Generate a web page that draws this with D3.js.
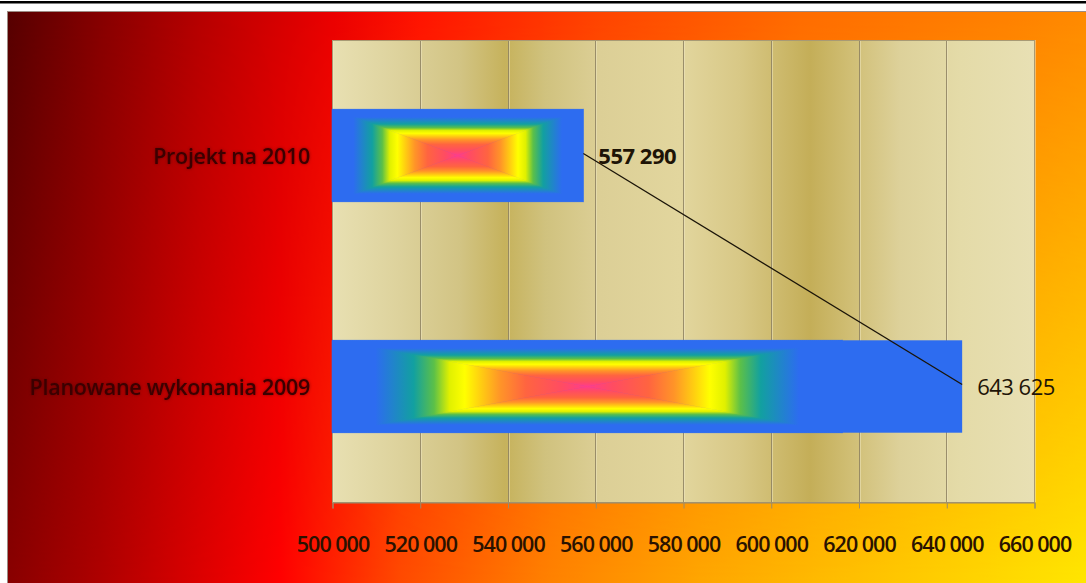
<!DOCTYPE html>
<html><head><meta charset="utf-8">
<script src="https://cdn.jsdelivr.net/npm/d3@7"></script>
<style>html,body{margin:0;padding:0;background:#fff;overflow:hidden;} svg{display:block;}</style>
</head><body>
<script>
// ---- data ----
const categories = ["Projekt na 2010", "Planowane wykonania 2009"];
const values = [557290, 643625];
const valueLabels = ["557 290", "643 625"];
const tickValues = [500000, 520000, 540000, 560000, 580000, 600000, 620000, 640000, 660000];
const tickLabels = ["500 000", "520 000", "540 000", "560 000", "580 000", "600 000", "620 000", "640 000", "660 000"];
const gradientSpan = [1, 0.81]; // share of each bar covered by the rectangular colour gradient

// ---- layout ----
const W = 1086, H = 583;
const chart = {x: 7, y: 11, w: W - 7, h: H - 11};
const plot = {left: 332, right: 1034, top: 40, bottom: 502};

const svg = d3.select("body").append("svg").attr("width", W).attr("height", H);
const defs = svg.append("defs");

// top black rule
svg.append("rect").attr("x", 0).attr("y", 1).attr("width", W).attr("height", 2.5).attr("fill", "#000");

// background: bilinear blend of top-row and bottom-row gradients
function hGrad(id, stops) {
  const g = defs.append("linearGradient").attr("id", id).attr("gradientUnits", "userSpaceOnUse")
    .attr("x1", chart.x).attr("x2", chart.x + chart.w).attr("y1", 0).attr("y2", 0);
  stops.forEach(s => g.append("stop").attr("offset", (s[0] - chart.x) / chart.w).attr("stop-color", s[1]));
}
hGrad("bgTop", [[7, "#560000"], [100, "#860000"], [200, "#b60000"], [330, "#ea0000"], [420, "#ff1400"], [600, "#ff4400"], [800, "#ff6c00"], [1000, "#ff8000"], [1086, "#ff8a00"]]);
hGrad("bgBot", [[7, "#880000"], [100, "#ae0000"], [200, "#dc0000"], [280, "#ff0000"], [400, "#ff4a00"], [550, "#ff8200"], [700, "#ffa600"], [900, "#ffc800"], [1086, "#ffe600"]]);
const vm = defs.append("linearGradient").attr("id", "vmask").attr("x1", 0).attr("x2", 0).attr("y1", 0).attr("y2", 1);
vm.append("stop").attr("offset", 0).attr("stop-color", "#000");
vm.append("stop").attr("offset", 1).attr("stop-color", "#fff");
defs.append("mask").attr("id", "bgMask").append("rect")
  .attr("x", chart.x).attr("y", chart.y).attr("width", chart.w).attr("height", chart.h).attr("fill", "url(#vmask)");

svg.append("rect").attr("x", chart.x).attr("y", chart.y).attr("width", chart.w).attr("height", chart.h).attr("fill", "url(#bgTop)");
svg.append("rect").attr("x", chart.x).attr("y", chart.y).attr("width", chart.w).attr("height", chart.h).attr("fill", "url(#bgBot)").attr("mask", "url(#bgMask)");
svg.append("rect").attr("x", chart.x + 0.5).attr("y", chart.y + 0.5).attr("width", chart.w).attr("height", chart.h)
  .attr("fill", "none").attr("stroke", "#9c8c84").attr("stroke-width", 1);

// scales
const x = d3.scaleLinear().domain([tickValues[0], tickValues[tickValues.length - 1]]).range([plot.left, plot.right]);
const y = d3.scaleBand().domain(categories).range([plot.top, plot.bottom]).padding(0);
const barH = y.bandwidth() * 0.4;

// plot area gold fill
const pg = defs.append("linearGradient").attr("id", "plotFill").attr("gradientUnits", "userSpaceOnUse")
  .attr("x1", plot.left).attr("x2", plot.right).attr("y1", 0).attr("y2", 0);
[[332, "#e8e0b2"], [400, "#ddd29c"], [460, "#d2c484"], [505, "#c6b25c"], [545, "#d0c27e"], [600, "#dccf96"], [680, "#e2d69e"], [740, "#d8c886"], [810, "#c4ae58"], [850, "#d0be74"], [900, "#ddd19a"], [960, "#e4dba8"], [1034, "#e8e0b4"]]
  .forEach(s => pg.append("stop").attr("offset", (s[0] - plot.left) / (plot.right - plot.left)).attr("stop-color", s[1]));
svg.append("rect").attr("x", plot.left).attr("y", plot.top).attr("width", plot.right - plot.left).attr("height", plot.bottom - plot.top)
  .attr("fill", "url(#plotFill)");

// gridlines
svg.append("g").selectAll("line").data(tickValues).join("line")
  .attr("x1", d => Math.round(x(d)) + 0.5).attr("x2", d => Math.round(x(d)) + 0.5)
  .attr("y1", plot.top).attr("y2", plot.bottom)
  .attr("stroke", "#8e8262").attr("stroke-width", 1).attr("opacity", 0.85);
svg.append("g").selectAll("line").data(tickValues).join("line")
  .attr("x1", d => Math.round(x(d)) + 1.5).attr("x2", d => Math.round(x(d)) + 1.5)
  .attr("y1", plot.top).attr("y2", plot.bottom)
  .attr("stroke", "#f0e8c4").attr("stroke-width", 1).attr("opacity", 0.5);

// plot border
svg.append("rect").attr("x", plot.left + 0.5).attr("y", plot.top + 0.5).attr("width", plot.right - plot.left).attr("height", plot.bottom - plot.top)
  .attr("fill", "none").attr("stroke", "#a89a74").attr("stroke-width", 1);

// x axis
const xAxis = d3.axisBottom(x).tickValues(tickValues).tickSize(6).tickPadding(43)
  .tickFormat((d, i) => tickLabels[i]);
const ax = svg.append("g").attr("transform", `translate(0.5,${plot.bottom + 0.5})`).call(xAxis);
ax.select(".domain").attr("stroke", "#9a8a6a");
ax.selectAll(".tick line").attr("stroke", "#9a8a6a");
ax.selectAll(".tick text").attr("fill", "#2a1200").attr("font-family", "'Open Sans', sans-serif")
  .attr("font-size", 21.5).attr("font-weight", 600).attr("letter-spacing", -1).attr("dy", 0);

// bar colour stops (edge -> centre)
const barStops = [[0, "#2d6cf0"], [0.17, "#2d6cf0"], [0.32, "#12a0a0"], [0.4, "#5cc048"], [0.46, "#e0f000"], [0.52, "#ffff00"], [0.58, "#ffd010"], [0.66, "#ff9428"], [0.76, "#ff6440"], [0.9, "#ff4c62"], [1, "#ff3c8c"]];

const bars = categories.map((c, i) => {
  const x0 = x(tickValues[0]), x1 = x(values[i]);
  const y0 = y(c) + (y.bandwidth() - barH) / 2;
  return {i, x0, x1, y0, y1: y0 + barH, gx1: x0 + (x1 - x0) * gradientSpan[i]};
});

const barG = svg.append("g");
bars.forEach(b => {
  barG.append("rect").attr("x", b.x0).attr("y", b.y0).attr("width", b.x1 - b.x0).attr("height", b.y1 - b.y0).attr("fill", "#2d6cf0");
  const cx = (b.x0 + b.gx1) / 2, cy = (b.y0 + b.y1) / 2;
  const sides = [
    {pts: [[b.x0, b.y0], [b.gx1, b.y0], [cx, cy]], g: [cx, b.y0, cx, cy]},
    {pts: [[b.x0, b.y1], [b.gx1, b.y1], [cx, cy]], g: [cx, b.y1, cx, cy]},
    {pts: [[b.x0, b.y0], [b.x0, b.y1], [cx, cy]], g: [b.x0, cy, cx, cy]},
    {pts: [[b.gx1, b.y0], [b.gx1, b.y1], [cx, cy]], g: [b.gx1, cy, cx, cy]}
  ];
  sides.forEach((s, k) => {
    const id = `bg${b.i}_${k}`;
    const lg = defs.append("linearGradient").attr("id", id).attr("gradientUnits", "userSpaceOnUse")
      .attr("x1", s.g[0]).attr("y1", s.g[1]).attr("x2", s.g[2]).attr("y2", s.g[3]);
    barStops.forEach(st => lg.append("stop").attr("offset", st[0]).attr("stop-color", st[1]));
    barG.append("path").attr("d", d3.line()(s.pts) + "Z").attr("fill", `url(#${id})`)
      .attr("stroke", `url(#${id})`).attr("stroke-width", 0.6);
  });
});

// connecting line through the values
const linePts = bars.map(b => [b.x1, (b.y0 + b.y1) / 2 - 2]);
svg.append("path").attr("d", d3.line()(linePts)).attr("fill", "none").attr("stroke", "#1a1408").attr("stroke-width", 1.3);

// value labels
svg.append("g").selectAll("text").data(bars).join("text")
  .attr("x", b => b.x1 + 15).attr("y", b => (b.y0 + b.y1) / 2 + 8)
  .attr("font-family", "'Open Sans', sans-serif").attr("font-size", 22)
  .attr("font-weight", b => b.i === 0 ? 700 : 400).attr("letter-spacing", -0.5)
  .attr("fill", "#1e1406").text(b => valueLabels[b.i]);

// category labels
defs.append("filter").attr("id", "glow").attr("x", "-5%").attr("y", "-30%").attr("width", "110%").attr("height", "160%")
  .call(f => {
    f.append("feGaussianBlur").attr("in", "SourceAlpha").attr("stdDeviation", 1.5).attr("result", "b");
    f.append("feFlood").attr("flood-color", "#400000").attr("flood-opacity", 0.6);
    f.append("feComposite").attr("in2", "b").attr("operator", "in").attr("result", "s");
    const m = f.append("feMerge");
    m.append("feMergeNode").attr("in", "s");
    m.append("feMergeNode").attr("in", "SourceGraphic");
  });
svg.append("g").selectAll("text").data(categories).join("text")
  .attr("x", 310).attr("y", d => y(d) + y.bandwidth() / 2 + 8)
  .attr("text-anchor", "end").attr("font-family", "'Open Sans', sans-serif")
  .attr("font-size", 21.5).attr("font-weight", 600).attr("letter-spacing", -0.3)
  .attr("fill", "#3a0000").attr("filter", "url(#glow)").text(d => d);
</script>
</body></html>
